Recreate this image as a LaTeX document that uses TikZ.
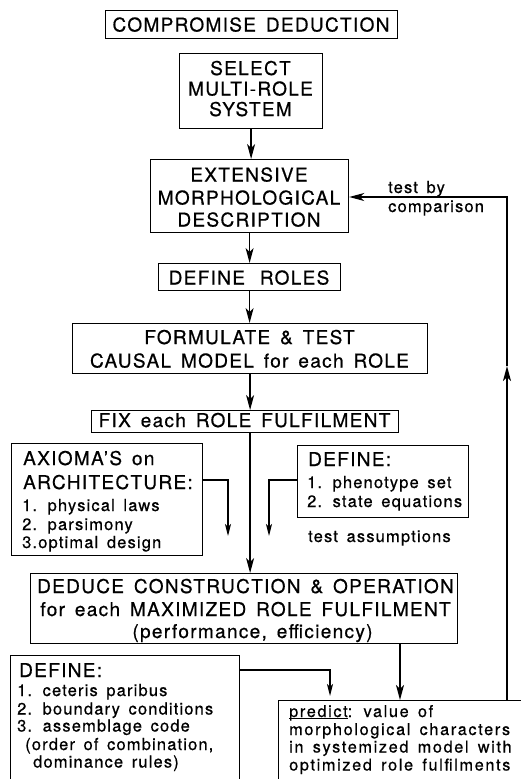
\documentclass[tikz,border=0pt]{standalone}
\usepackage{fontspec}
\setmainfont{TeX Gyre Heros}[LetterSpace=7,WordSpace=1.5,FakeBold=0.6]
\newfontfamily\widef{TeX Gyre Heros}[LetterSpace=10,WordSpace=1.5,FakeBold=0.6]
\usetikzlibrary{arrows.meta}
% type sizes: headings, lists and the prediction text
\newcommand\fm{\fontsize{19}{19}\selectfont}
\newcommand\fs{\fontsize{16.5}{16.5}\selectfont}
\newcommand\fp{\widef\fontsize{16.3}{16.3}\selectfont}
% a stack of lines whose baselines lie a fixed pitch apart
\newcommand\Tv[1]{\vtop{\lineskiplimit=-100pt\lineskip=0pt #1}}
\newcommand\Lc[2]{\baselineskip=#1pt\hbox to 0pt{\hss#2\hss}}
\newcommand\Ll[3][0]{\baselineskip=#2pt\hbox{\kern#1pt #3}}
\newcommand\ulword[1]{\setbox0\hbox{#1}\rlap{\rule[-2.2pt]{\wd0}{0.9pt}}\box0}
\begin{document}
\begin{tikzpicture}[x=1pt,y=-1pt,
  box/.style={draw,line width=1.2pt,inner sep=0pt,anchor=north west},
  ctxt/.style={inner sep=0pt,anchor=base},
  ltxt/.style={inner sep=0pt,anchor=base west},
  conn/.style={line width=1.3pt},
  arr/.style={conn,-{Stealth[length=15pt,width=8pt,inset=4pt]}},
  arrs/.style={conn,-{Stealth[length=12pt,width=6pt,inset=3pt]}}]
\useasboundingbox (0,0) rectangle (521,779);
\clip (0,0) rectangle (521,779);

% boxes
\node[box,minimum width=292pt,minimum height=28pt] (cd) at (105,10) {};
\node[box,minimum width=143pt,minimum height=75pt] (sel) at (179,53) {};
\node[box,minimum width=198pt,minimum height=73pt] (ext) at (150,159) {};
\node[box,minimum width=182pt,minimum height=27pt] (roles) at (158,263) {};
\node[box,minimum width=355pt,minimum height=50pt] (form) at (72,323) {};
\node[box,minimum width=307pt,minimum height=22pt] (fix) at (91,410) {};
\node[box,minimum width=191pt,minimum height=112pt] (ax) at (11,443) {};
\node[box,minimum width=171pt,minimum height=72pt] (defr) at (297,445) {};
\node[box,minimum width=427pt,minimum height=70pt] (ded) at (30,573) {};
\node[box,minimum width=229pt,minimum height=150pt] (defb) at (10,655) {};
\node[box,minimum width=260pt,minimum height=110pt] (pred) at (278,700) {};

% texts
\node[ctxt] (cdt) at (251,31.5) {\Tv{\Lc{0}{\fm COMPROMISE DEDUCTION}}};
\node[ctxt] (selt) at (250.5,75) {\Tv{\Lc{0}{\fm SELECT}\Lc{20.5}{\fm MULTI-ROLE}\Lc{20.5}{\fm SYSTEM}}};
\node[ctxt] (extt) at (249,181.5) {\Tv{\Lc{0}{\fm EXTENSIVE}\Lc{23}{\fm MORPHOLOGICAL}\Lc{22}{\fm DESCRIPTION}}};
\node[ctxt] (rolest) at (249,284.5) {\Tv{\Lc{0}{\fm DEFINE\hspace{5pt} ROLES}}};
\node[ctxt] (formt) at (249.5,344) {\Tv{\Lc{0}{\fm FORMULATE \& TEST}\Lc{23.5}{\fm CAUSAL MODEL for each ROLE}}};
\node[ctxt] (fixt) at (244.5,427) {\Tv{\Lc{0}{\fm FIX each ROLE FULFILMENT}}};
\node[ltxt] (axt) at (23,465) {\Tv{\Ll{0}{\fm AXIOMA'S on}\Ll{24}{\fm ARCHITECTURE:}%
  \Ll[-1]{22}{\fs 1. physical laws}\Ll[-1]{19}{\fs 2. parsimony}\Ll[-1]{18}{\fs 3.optimal design}}};
\node[ltxt] (defrt) at (308,466) {\Tv{\Ll{0}{\fm DEFINE:}\Ll[-1]{22}{\fs 1. phenotype set}\Ll[-1]{19}{\fs 2. state equations}}};
\node[ctxt] (dedt) at (245.5,593) {\Tv{\Lc{0}{\fm DEDUCE CONSTRUCTION \& OPERATION}%
  \Lc{23}{\fm for each MAXIMIZED ROLE FULFILMENT}\Lc{22}{\fm\hspace{14pt}(performance, efficiency)}}};
\node[ltxt] (defbt) at (19,677) {\Tv{\Ll{0}{\fm DEFINE:}\Ll[-2]{19}{\fs 1. ceteris paribus}%
  \Ll[-2]{18.5}{\fs 2. boundary conditions}\Ll[-2]{17}{\fs 3. assemblage code}%
  \Ll[6]{18.5}{\fs (order of combination,}\Ll[14]{17.5}{\fs dominance rules)}}};
\node[ltxt] (predt) at (289,717) {\Tv{\Ll{0}{\fp \ulword{predict}: value of}\Ll{18}{\fp morphological characters}%
  \Ll{17.5}{\fp in systemized model with}\Ll{18}{\fp optimized role fulfilments}}};
\node[ltxt] (tbc) at (388,193) {\Tv{\Ll{0}{\fs test by}\Ll{19}{\fs comparison}}};
\node[ltxt] (tas) at (308,542) {\Tv{\Ll{0}{\fs test assumptions}}};

% main chain
\draw[arr] (sel.south) -- (sel.south |- ext.north);
\draw[arr] (ext.south) -- (ext.south |- roles.north);
\draw[arr] (roles.south) -- (roles.south |- form.north);
\draw[arr] (form.south) -- (form.south |- fix.north);
\draw[arr] (fix.south -| form.south) -- (form.south |- ded.north);

% side inputs
\coordinate (axj) at (228,480);
\coordinate (axend) at (228,536);
\draw[arrs] (ax.east |- axj) -- (axj) -- (axend);
\coordinate (drj) at (269,480);
\coordinate (drend) at (269,536);
\draw[arrs] (defr.west |- drj) -- (drj) -- (drend);
\coordinate (dbj) at (330,670);
\coordinate (dbend) at (330,696);
\draw[arrs] (defb.east |- dbj) -- (dbj) -- (dbend);
\coordinate (pin) at (400,700);
\draw[arr] (ded.south -| pin) -- (pin);

% feedback loop
\coordinate (fbc) at (507,197);
\coordinate (fbmid) at (507,366);
\draw[arr] (pred.north -| fbc) -- (fbmid);
\draw[arr] (fbmid) -- (fbc) -- (fbc -| ext.east);
\end{tikzpicture}
\end{document}
